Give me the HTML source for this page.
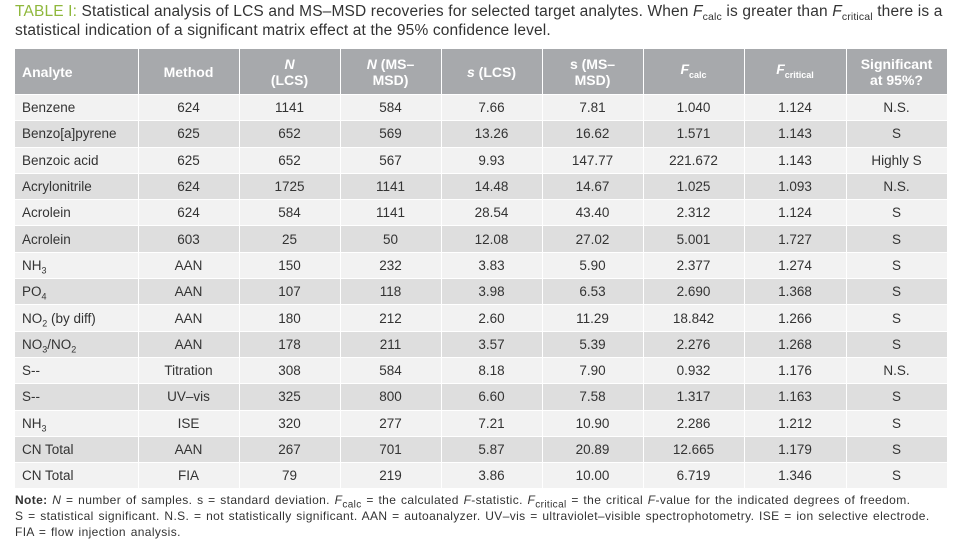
<!DOCTYPE html>
<html><head><meta charset="utf-8"><style>
body{margin:0;width:967px;height:540px;background:#fff;font-family:"Liberation Sans",sans-serif;position:relative;overflow:hidden}
#title{position:absolute;left:15px;top:2px;width:950px;font-size:15.5px;line-height:19px;letter-spacing:0.15px;color:#333;white-space:nowrap}
#title sub{line-height:0;font-size:10.5px}
#title b{color:#8fb83c;font-weight:normal}
table{position:absolute;left:15px;top:49px;border-collapse:collapse;table-layout:fixed;width:932px}
td,th{border-right:1px solid #fff;border-bottom:1px solid #fff;padding:0;text-align:center;font-size:13.5px;color:#333;height:25.3px;white-space:nowrap}
th{background:#a7a9ac;color:#fff;font-size:14px;height:45px;line-height:16px;font-weight:bold}
td:first-child,th:first-child{text-align:left;padding-left:7px}
tr:nth-child(odd) td{background:#f2f2f2}
tr:nth-child(even) td{background:#dedede}
td sub{font-size:9px;line-height:0}
#note{position:absolute;left:15px;top:492px;width:950px;font-size:12px;letter-spacing:0.38px;word-spacing:1px;line-height:16px;color:#333;white-space:nowrap}
#note sub{line-height:0}
</style></head><body>
<div id="title"><b>TABLE I:</b> Statistical analysis of LCS and MS–MSD recoveries for selected target analytes. When <i>F</i><sub>calc</sub> is greater than <i>F</i><sub>critical</sub> there is a<br>statistical indication of a significant matrix effect at the 95% confidence level.</div>
<table>
<colgroup><col style="width:123px"><col style="width:101px"><col style="width:101px"><col style="width:101px"><col style="width:101px"><col style="width:101px"><col style="width:101px"><col style="width:102px"><col style="width:101px"></colgroup>
<thead><tr><th>Analyte</th><th>Method</th><th><i>N</i><br>(LCS)</th><th><i>N</i> (MS–<br>MSD)</th><th><i>s</i> (LCS)</th><th>s (MS–<br>MSD)</th><th><i>F</i><sub style="font-size:9px">calc</sub></th><th><i>F</i><sub style="font-size:9px">critical</sub></th><th>Significant<br>at 95%?</th></tr></thead>
<tbody>
<tr><td>Benzene</td><td>624</td><td>1141</td><td>584</td><td>7.66</td><td>7.81</td><td>1.040</td><td>1.124</td><td>N.S.</td></tr>
<tr><td>Benzo[a]pyrene</td><td>625</td><td>652</td><td>569</td><td>13.26</td><td>16.62</td><td>1.571</td><td>1.143</td><td>S</td></tr>
<tr><td>Benzoic acid</td><td>625</td><td>652</td><td>567</td><td>9.93</td><td>147.77</td><td>221.672</td><td>1.143</td><td>Highly S</td></tr>
<tr><td>Acrylonitrile</td><td>624</td><td>1725</td><td>1141</td><td>14.48</td><td>14.67</td><td>1.025</td><td>1.093</td><td>N.S.</td></tr>
<tr><td>Acrolein</td><td>624</td><td>584</td><td>1141</td><td>28.54</td><td>43.40</td><td>2.312</td><td>1.124</td><td>S</td></tr>
<tr><td>Acrolein</td><td>603</td><td>25</td><td>50</td><td>12.08</td><td>27.02</td><td>5.001</td><td>1.727</td><td>S</td></tr>
<tr><td>NH<sub>3</sub></td><td>AAN</td><td>150</td><td>232</td><td>3.83</td><td>5.90</td><td>2.377</td><td>1.274</td><td>S</td></tr>
<tr><td>PO<sub>4</sub></td><td>AAN</td><td>107</td><td>118</td><td>3.98</td><td>6.53</td><td>2.690</td><td>1.368</td><td>S</td></tr>
<tr><td>NO<sub>2</sub> (by diff)</td><td>AAN</td><td>180</td><td>212</td><td>2.60</td><td>11.29</td><td>18.842</td><td>1.266</td><td>S</td></tr>
<tr><td>NO<sub>3</sub>/NO<sub>2</sub></td><td>AAN</td><td>178</td><td>211</td><td>3.57</td><td>5.39</td><td>2.276</td><td>1.268</td><td>S</td></tr>
<tr><td>S--</td><td>Titration</td><td>308</td><td>584</td><td>8.18</td><td>7.90</td><td>0.932</td><td>1.176</td><td>N.S.</td></tr>
<tr><td>S--</td><td>UV–vis</td><td>325</td><td>800</td><td>6.60</td><td>7.58</td><td>1.317</td><td>1.163</td><td>S</td></tr>
<tr><td>NH<sub>3</sub></td><td>ISE</td><td>320</td><td>277</td><td>7.21</td><td>10.90</td><td>2.286</td><td>1.212</td><td>S</td></tr>
<tr><td>CN Total</td><td>AAN</td><td>267</td><td>701</td><td>5.87</td><td>20.89</td><td>12.665</td><td>1.179</td><td>S</td></tr>
<tr><td>CN Total</td><td>FIA</td><td>79</td><td>219</td><td>3.86</td><td>10.00</td><td>6.719</td><td>1.346</td><td>S</td></tr>
</tbody></table>
<div id="note"><b>Note:</b> <i>N</i> = number of samples. s = standard deviation. <i>F</i><sub>calc</sub> = the calculated <i>F</i>-statistic. <i>F</i><sub>critical</sub> = the critical <i>F</i>-value for the indicated degrees of freedom.<br>S = statistical significant. N.S. = not statistically significant. AAN = autoanalyzer. UV–vis = ultraviolet–visible spectrophotometry. ISE = ion selective electrode.<br>FIA = flow injection analysis.</div>
</body></html>
